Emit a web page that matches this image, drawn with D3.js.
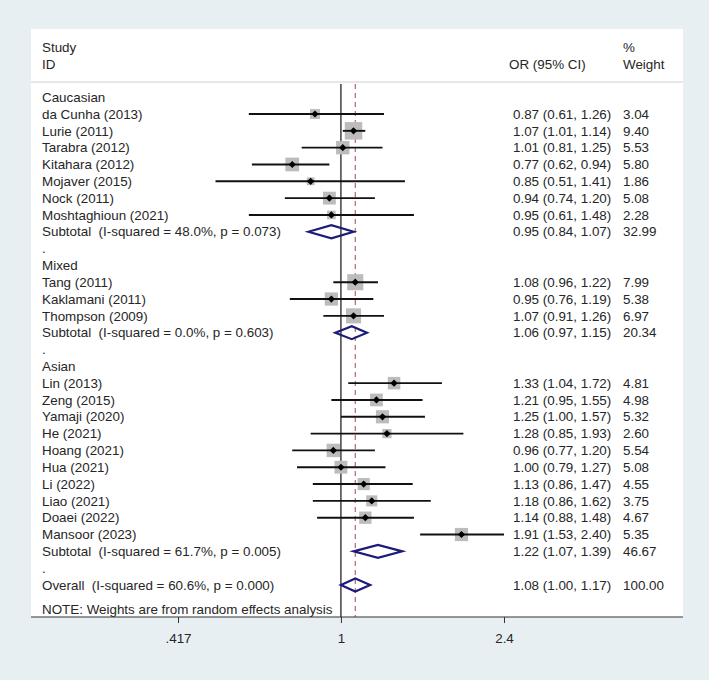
<!DOCTYPE html>
<html>
<head>
<meta charset="utf-8">
<script src="https://cdn.jsdelivr.net/npm/d3@7"></script>
<style>
  html, body { margin: 0; padding: 0; background: #e8eff2; }
  svg { display: block; }
  text { font-family: "Liberation Sans", Arial, sans-serif; font-size: 13.4px; fill: #262626; white-space: pre; }
</style>
</head>
<body>
<svg id="chart"></svg>
<script>
// study level data
const studyNames = ['da Cunha (2013)', 'Lurie (2011)', 'Tarabra (2012)', 'Kitahara (2012)', 'Mojaver (2015)', 'Nock (2011)', 'Moshtaghioun (2021)',
  'Tang (2011)', 'Kaklamani (2011)', 'Thompson (2009)',
  'Lin (2013)', 'Zeng (2015)', 'Yamaji (2020)', 'He (2021)', 'Hoang (2021)', 'Hua (2021)', 'Li (2022)', 'Liao (2021)', 'Doaei (2022)', 'Mansoor (2023)']
const studyGroup = [0,0,0,0,0,0,0, 1,1,1, 2,2,2,2,2,2,2,2,2,2]
const orVals = [0.87, 1.07, 1.01, 0.77, 0.85, 0.94, 0.95, 1.08, 0.95, 1.07, 1.33, 1.21, 1.25, 1.28, 0.96, 1.00, 1.13, 1.18, 1.14, 1.91]
const ciLow  = [0.61, 1.01, 0.81, 0.62, 0.51, 0.74, 0.61, 0.96, 0.76, 0.91, 1.04, 0.95, 1.00, 0.85, 0.77, 0.79, 0.86, 0.86, 0.88, 1.53]
const ciHigh = [1.26, 1.14, 1.25, 0.94, 1.41, 1.20, 1.48, 1.22, 1.19, 1.26, 1.72, 1.55, 1.57, 1.93, 1.20, 1.27, 1.47, 1.62, 1.48, 2.40]
const weights = [3.04, 9.40, 5.53, 5.80, 1.86, 5.08, 2.28, 7.99, 5.38, 6.97, 4.81, 4.98, 5.32, 2.60, 5.54, 5.08, 4.55, 3.75, 4.67, 5.35]

// subgroups
const groupNames = ['Caucasian', 'Mixed', 'Asian']
const subLabels = ['Subtotal  (I-squared = 48.0%, p = 0.073)', 'Subtotal  (I-squared = 0.0%, p = 0.603)', 'Subtotal  (I-squared = 61.7%, p = 0.005)']
const subOR   = [0.95, 1.06, 1.22]
const subLow  = [0.84, 0.97, 1.07]
const subHigh = [1.07, 1.15, 1.39]
const subWeight = [32.99, 20.34, 46.67]

// overall
const overallLabel = 'Overall  (I-squared = 60.6%, p = 0.000)'
const overallOR = 1.08, overallLow = 1.00, overallHigh = 1.17, overallWeight = 100.00

const tickValues = [0.417, 1, 2.4]
const tickLabels = ['.417', '1', '2.4']

// build row list
let rows = []
groupNames.forEach((g, gi) => {
    rows.push({type: 'head', label: g})
    studyNames.forEach((s, i) => {
        if (studyGroup[i] === gi) rows.push({type: 'study', label: s, or: orVals[i], lo: ciLow[i], hi: ciHigh[i], w: weights[i]})
    })
    rows.push({type: 'sub', label: subLabels[gi], or: subOR[gi], lo: subLow[gi], hi: subHigh[gi], w: subWeight[gi]})
    rows.push({type: 'dot', label: '.'})
})
rows.push({type: 'sub', label: overallLabel, or: overallOR, lo: overallLow, hi: overallHigh, w: overallWeight})

const W = 709, H = 680
const plot = {left: 31, top: 29, right: 683, bottom: 617}
const row0 = 97.2, rowStep = 16.82

const svg = d3.select('#chart').attr('width', W).attr('height', H)

svg.append('rect')
    .attr('x', plot.left).attr('y', plot.top)
    .attr('width', plot.right - plot.left).attr('height', plot.bottom - plot.top)
    .attr('fill', '#fff')

// x scale (log)
const x = d3.scaleLog().domain([0.417, 2.4]).range([178, 504])
const y = i => row0 + i * rowStep
const fmt = d3.format('.2f')

// headers
const txtX = 42, orX = 513, wX = 623
svg.append('text').attr('x', txtX).attr('y', 52).text('Study')
svg.append('text').attr('x', txtX).attr('y', 69).text('ID')
svg.append('text').attr('x', orX - 4).attr('y', 69).text('OR (95% CI)')
svg.append('text').attr('x', wX).attr('y', 52).text('%')
svg.append('text').attr('x', wX).attr('y', 69).text('Weight')

svg.append('line')
    .attr('x1', plot.left).attr('x2', plot.right)
    .attr('y1', 82).attr('y2', 82)
    .attr('stroke', '#cfcfcf').attr('stroke-width', 1.2)

// null line + pooled estimate line
svg.append('line')
    .attr('x1', x(1)).attr('x2', x(1))
    .attr('y1', 84).attr('y2', plot.bottom)
    .attr('stroke', '#111').attr('stroke-width', 1.2)

svg.append('line')
    .attr('x1', x(overallOR)).attr('x2', x(overallOR))
    .attr('y1', 84).attr('y2', plot.bottom)
    .attr('stroke', '#b4555c').attr('stroke-width', 1.1)
    .attr('stroke-dasharray', '5,4')

const g = svg.append('g')

rows.forEach((r, i) => {
    const cy = y(i)
    g.append('text')
        .attr('x', txtX).attr('y', cy + 4.7)
        .attr('fill', r.type === 'dot' ? '#888' : '#262626')
        .text(r.label)

    if (r.type === 'study') {
        const side = 5.7 * Math.sqrt(r.w)
        g.append('rect')
            .attr('x', x(r.or) - side / 2).attr('y', cy - side / 2)
            .attr('width', side).attr('height', side)
            .attr('fill', '#bcbcbc')
        g.append('line')
            .attr('x1', x(r.lo)).attr('x2', x(r.hi))
            .attr('y1', cy).attr('y2', cy)
            .attr('stroke', '#111').attr('stroke-width', 1.9)
        const px = x(r.or), d = 3.6
        g.append('path')
            .attr('d', `M${px - d},${cy}L${px},${cy - d}L${px + d},${cy}L${px},${cy + d}Z`)
            .attr('fill', '#000')
    }
    if (r.type === 'sub') {
        const h = 6.5
        g.append('path')
            .attr('d', `M${x(r.lo)},${cy}L${x(r.or)},${cy - h}L${x(r.hi)},${cy}L${x(r.or)},${cy + h}Z`)
            .attr('fill', 'none')
            .attr('stroke', '#1c1c78').attr('stroke-width', 2.2)
    }
    if (r.type === 'study' || r.type === 'sub') {
        g.append('text').attr('x', orX).attr('y', cy + 4.7)
            .text(`${fmt(r.or)} (${fmt(r.lo)}, ${fmt(r.hi)})`)
        g.append('text').attr('x', wX).attr('y', cy + 4.7)
            .text(fmt(r.w))
    }
})

svg.append('text').attr('x', txtX).attr('y', 614)
    .text('NOTE: Weights are from random effects analysis')

// x axis
const axis = svg.append('g')
    .attr('transform', 'translate(0,' + plot.bottom + ')')
    .call(d3.axisBottom(x).tickValues(tickValues)
        .tickFormat((d, i) => tickLabels[i]).tickSize(6).tickPadding(10))
axis.select('.domain').remove()
axis.selectAll('line').attr('stroke', '#333')
axis.selectAll('text')
    .style('font-family', '"Liberation Sans", Arial, sans-serif')
    .style('font-size', '13.4px').attr('fill', '#262626')

svg.append('line')
    .attr('x1', plot.left).attr('x2', plot.right)
    .attr('y1', plot.bottom).attr('y2', plot.bottom)
    .attr('stroke', '#333').attr('stroke-width', 1.2)
</script>
</body>
</html>
